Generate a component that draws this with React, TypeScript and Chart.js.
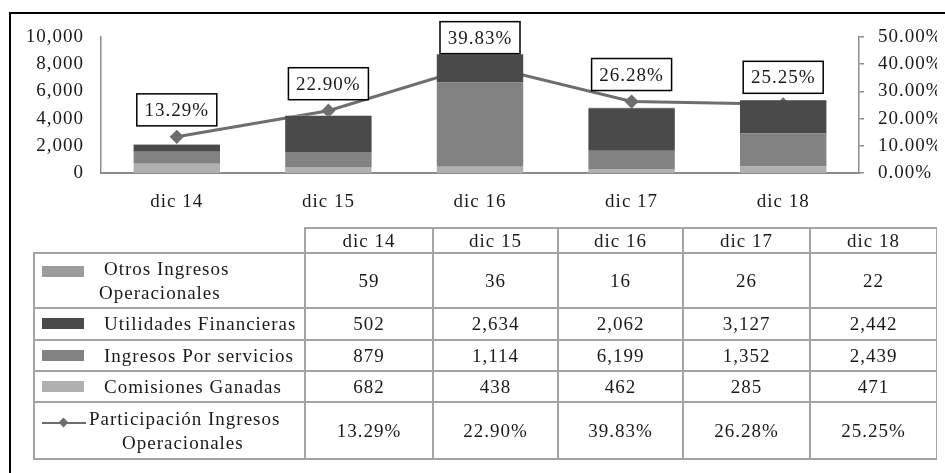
import React, { useEffect, useRef } from 'react';
import { Chart, registerables } from 'chart.js';

Chart.register(...registerables);

const categories = ['dic 14', 'dic 15', 'dic 16', 'dic 17', 'dic 18'];
const comisiones = [682, 438, 462, 285, 471];
const ingresos = [879, 1114, 6199, 1352, 2439];
const utilidades = [502, 2634, 2062, 3127, 2442];
const otros = [59, 36, 16, 26, 22];
const participacion = [13.29, 22.9, 39.83, 26.28, 25.25];

const leftTicks = [0, 2000, 4000, 6000, 8000, 10000];
const rightTicks = [0, 10, 20, 30, 40, 50];

const FONT = '"Liberation Serif", "Times New Roman", Times, serif';
const TEXT = '#1a1a1a';
const AXIS = '#8c8c8c';

const COLORS = {
  otros: '#9c9c9c',
  utilidades: '#4a4a4a',
  ingresos: '#828282',
  comisiones: '#b0b0b0',
  line: '#6e6e6e',
};

const fmt = (v: number) => v.toLocaleString('en-US');
const pct = (v: number) => v.toFixed(2) + '%';

type Row = {
  lines: { text: string; indent: number }[];
  kind: 'bar' | 'line';
  color: string;
  values: string[];
  height: number;
};

const rows: Row[] = [
  {
    lines: [
      { text: 'Otros Ingresos', indent: 69 },
      { text: 'Operacionales', indent: 64 },
    ],
    kind: 'bar',
    color: COLORS.otros,
    values: otros.map(fmt),
    height: 55,
  },
  {
    lines: [{ text: 'Utilidades Financieras', indent: 69 }],
    kind: 'bar',
    color: COLORS.utilidades,
    values: utilidades.map(fmt),
    height: 32,
  },
  {
    lines: [{ text: 'Ingresos Por servicios', indent: 69 }],
    kind: 'bar',
    color: COLORS.ingresos,
    values: ingresos.map(fmt),
    height: 31,
  },
  {
    lines: [{ text: 'Comisiones Ganadas', indent: 69 }],
    kind: 'bar',
    color: COLORS.comisiones,
    values: comisiones.map(fmt),
    height: 31,
  },
  {
    lines: [
      { text: 'Participación Ingresos', indent: 54 },
      { text: 'Operacionales', indent: 87 },
    ],
    kind: 'line',
    color: COLORS.line,
    values: participacion.map(pct),
    height: 57,
  },
];

const colWidths = [271, 128, 125, 125, 127, 127];
const BORDER = '2px solid #a3a3a3';

export default function App() {
  const ref = useRef<HTMLCanvasElement>(null);

  useEffect(() => {
    if (!ref.current) return;

    const spacing = {
      id: 'spacing',
      beforeDraw(c: any) {
        c.ctx.letterSpacing = '1px';
      },
    };

    const boxes = {
      id: 'boxes',
      afterDatasetsDraw(c: any) {
        const meta = c.getDatasetMeta(4);
        const ctx = c.ctx;
        ctx.save();
        ctx.letterSpacing = '1px';
        ctx.font = '19px ' + FONT;
        meta.data.forEach((pt: any, i: number) => {
          const text = pct(participacion[i]);
          const w = 80;
          const h = 32;
          const cx = pt.x;
          const cy = pt.y - 27;
          ctx.fillStyle = '#ffffff';
          ctx.fillRect(cx - w / 2, cy - h / 2, w, h);
          ctx.strokeStyle = '#000000';
          ctx.lineWidth = 1.5;
          ctx.strokeRect(cx - w / 2, cy - h / 2, w, h);
          ctx.fillStyle = TEXT;
          ctx.textAlign = 'center';
          ctx.textBaseline = 'middle';
          ctx.fillText(text, cx, cy + 1);
        });
        ctx.restore();
      },
    };

    const vFit = (w: number) => (s: any) => {
      s.width = w;
      s.paddingTop = 0;
      s.paddingBottom = 0;
    };

    const chart = new Chart(ref.current, {
      type: 'bar',
      data: {
        labels: categories,
        datasets: [
          {
            type: 'bar',
            label: 'Comisiones Ganadas',
            data: comisiones,
            backgroundColor: COLORS.comisiones,
            stack: 's',
            yAxisID: 'y',
            order: 1,
          },
          {
            type: 'bar',
            label: 'Ingresos Por servicios',
            data: ingresos,
            backgroundColor: COLORS.ingresos,
            stack: 's',
            yAxisID: 'y',
            order: 1,
          },
          {
            type: 'bar',
            label: 'Utilidades Financieras',
            data: utilidades,
            backgroundColor: COLORS.utilidades,
            stack: 's',
            yAxisID: 'y',
            order: 1,
          },
          {
            type: 'bar',
            label: 'Otros Ingresos Operacionales',
            data: otros,
            backgroundColor: COLORS.otros,
            stack: 's',
            yAxisID: 'y',
            order: 1,
          },
          {
            type: 'line',
            label: 'Participación Ingresos Operacionales',
            data: participacion,
            borderColor: COLORS.line,
            backgroundColor: COLORS.line,
            borderWidth: 3,
            pointStyle: 'rectRot',
            pointRadius: 5,
            yAxisID: 'y2',
            order: 5,
          } as any,
        ],
      },
      options: {
        animation: false,
        responsive: false,
        maintainAspectRatio: false,
        layout: { padding: { top: 23, left: 0, right: 0, bottom: 0 } },
        datasets: {
          bar: { barPercentage: 0.57, categoryPercentage: 1 },
        },
        plugins: {
          legend: { display: false },
          tooltip: { enabled: false },
        },
        scales: {
          x: {
            stacked: true,
            grid: { display: false, drawTicks: false },
            border: { display: true, color: AXIS, width: 2 },
            ticks: {
              color: TEXT,
              font: { family: FONT, size: 19 },
              padding: 18,
              autoSkip: false,
              maxRotation: 0,
            },
            afterFit: (s: any) => {
              s.height = 41;
            },
          },
          y: {
            stacked: true,
            position: 'left',
            min: 0,
            max: 10000,
            afterBuildTicks: (s: any) => {
              s.ticks = leftTicks.map((v) => ({ value: v }));
            },
            grid: { display: false, drawTicks: false },
            border: { display: true, color: AXIS, width: 1.5 },
            ticks: {
              color: TEXT,
              font: { family: FONT, size: 19 },
              padding: 17,
              autoSkip: false,
              callback: (v: any) => fmt(Number(v)),
            },
            afterFit: vFit(91),
          },
          y2: {
            position: 'right',
            min: 0,
            max: 50,
            afterBuildTicks: (s: any) => {
              s.ticks = rightTicks.map((v) => ({ value: v }));
            },
            grid: {
              display: true,
              drawOnChartArea: false,
              drawTicks: true,
              tickLength: 5,
              color: AXIS,
              lineWidth: 1.5,
            },
            border: { display: true, color: AXIS, width: 1.5 },
            ticks: {
              color: TEXT,
              font: { family: FONT, size: 19 },
              padding: 14,
              autoSkip: false,
              callback: (v: any) => pct(Number(v)),
            },
            afterFit: vFit(86),
          },
        },
      },
      plugins: [spacing, boxes],
    } as any);

    return () => chart.destroy();
  }, []);

  const cellText: React.CSSProperties = {
    fontFamily: FONT,
    fontSize: 19,
    letterSpacing: '1px',
    color: TEXT,
    textAlign: 'center',
    verticalAlign: 'middle',
    border: BORDER,
    padding: 0,
  };

  return (
    <div style={{ position: 'relative', width: 929, height: 457 }}>
      <div
        style={{
          position: 'fixed',
          left: 9,
          top: 12,
          width: 940,
          height: 470,
          borderTop: '2px solid #000',
          borderLeft: '2px solid #000',
          pointerEvents: 'none',
        }}
      />
      <div style={{ position: 'absolute', left: 2, top: 6, width: 935, height: 200 }}>
        <canvas ref={ref} width={935} height={200} style={{ width: 935, height: 200, display: 'block' }} />
      </div>
      <table
        style={{
          position: 'absolute',
          left: 25,
          top: 219,
          width: 903,
          borderCollapse: 'collapse',
          tableLayout: 'fixed',
        }}
      >
        <colgroup>
          {colWidths.map((w, i) => (
            <col key={i} style={{ width: w }} />
          ))}
        </colgroup>
        <tbody>
          <tr style={{ height: 25 }}>
            <td style={{ border: 'none', padding: 0 }} />
            {categories.map((c) => (
              <td key={c} style={cellText}>
                {c}
              </td>
            ))}
          </tr>
          {rows.map((r, ri) => (
            <tr key={ri} style={{ height: r.height }}>
              <td style={{ ...cellText, textAlign: 'left', position: 'relative' }}>
                {r.kind === 'bar' ? (
                  <div
                    style={{
                      position: 'absolute',
                      left: 7,
                      top: r.lines.length > 1 ? 12 : '50%',
                      marginTop: r.lines.length > 1 ? 0 : -6,
                      width: 42,
                      height: 11,
                      background: r.color,
                    }}
                  />
                ) : (
                  <div style={{ position: 'absolute', left: 7, top: 17, width: 44, height: 6 }}>
                    <div style={{ position: 'absolute', left: 0, top: 2, width: 44, height: 2, background: r.color }} />
                    <div
                      style={{
                        position: 'absolute',
                        left: 18,
                        top: -1,
                        width: 7,
                        height: 7,
                        background: r.color,
                        transform: 'rotate(45deg)',
                      }}
                    />
                  </div>
                )}
                <div style={{ lineHeight: '24px' }}>
                  {r.lines.map((l, li) => (
                    <div key={li} style={{ paddingLeft: l.indent, whiteSpace: 'nowrap' }}>
                      {l.text}
                    </div>
                  ))}
                </div>
              </td>
              {r.values.map((v, vi) => (
                <td key={vi} style={cellText}>
                  {v}
                </td>
              ))}
            </tr>
          ))}
        </tbody>
      </table>
    </div>
  );
}
